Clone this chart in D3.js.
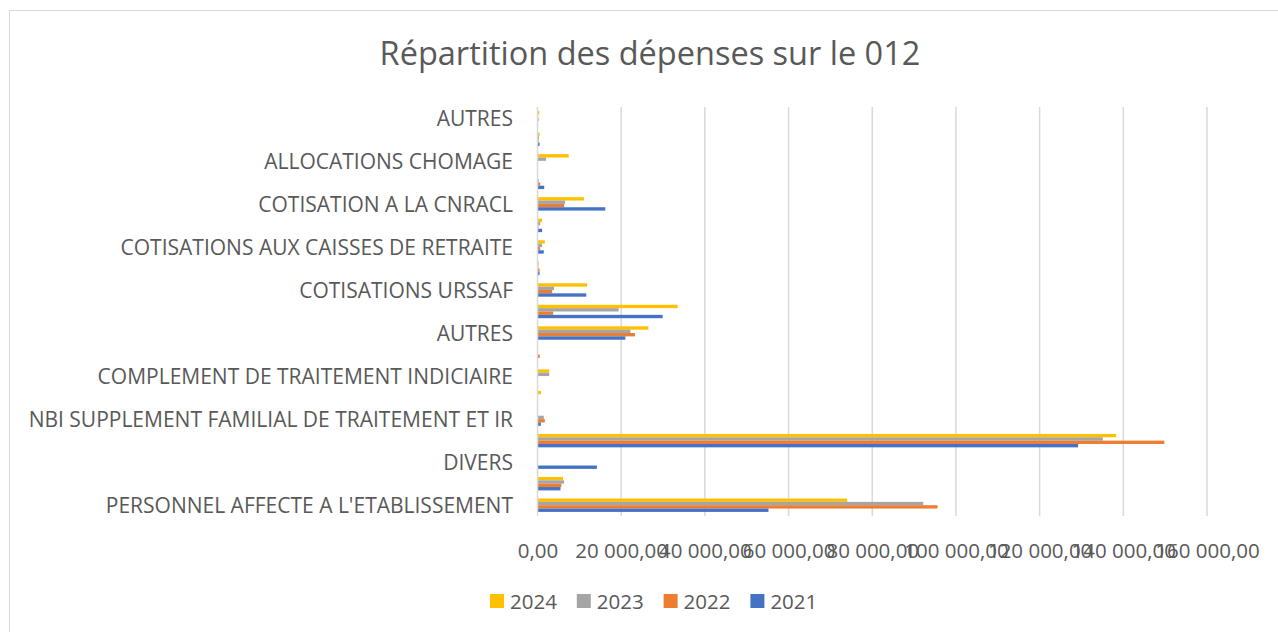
<!DOCTYPE html>
<html>
<head>
<meta charset="utf-8">
<script src="https://cdn.jsdelivr.net/npm/d3@7"></script>
<style>
  body { margin: 0; background: #fff; }
  text { font-family: "Open Sans", sans-serif; fill: #595959; }
</style>
</head>
<body>
<svg id="chart" width="1278" height="632"></svg>
<script>
// categories from top to bottom, Excel only prints every other label
var categories = [
    "AUTRES", "", "ALLOCATIONS CHOMAGE", "", "COTISATION A LA CNRACL", "",
    "COTISATIONS AUX CAISSES DE RETRAITE", "", "COTISATIONS URSSAF", "",
    "AUTRES", "", "COMPLEMENT DE TRAITEMENT INDICIAIRE", "",
    "NBI SUPPLEMENT FAMILIAL DE TRAITEMENT ET IR", "", "DIVERS", "",
    "PERSONNEL AFFECTE A L'ETABLISSEMENT"
]
var years = ["2024", "2023", "2022", "2021"]
var values2024 = [450, 500, 7450, 0, 11100, 1100, 1750, 300, 11850, 33500, 26500, 0, 2800, 850, 0, 138300, 0, 6100, 74000]
var values2023 = [150, 350, 2050, 300, 6600, 650, 1100, 200, 3950, 19400, 22200, 0, 2800, 0, 1500, 135100, 0, 6350, 92200]
var values2022 = [250, 250, 0, 650, 6350, 200, 650, 500, 3500, 3750, 23300, 550, 0, 0, 1750, 149800, 0, 5700, 95600]
var values2021 = [0, 500, 0, 1600, 16200, 1100, 1500, 500, 11650, 29900, 21000, 0, 0, 0, 800, 129200, 14200, 5500, 55200]
var xTicks = [0, 20000, 40000, 60000, 80000, 100000, 120000, 140000, 160000]

var colors = { "2024": "#FFC000", "2023": "#A5A5A5", "2022": "#ED7D31", "2021": "#4472C4" }
var series = { "2024": values2024, "2023": values2023, "2022": values2022, "2021": values2021 }

var svg = d3.select("#chart")

// chart border (cropped on the right and bottom)
svg.append("rect")
    .attr("x", 9.5).attr("y", 10.5)
    .attr("width", 1400).attr("height", 800)
    .attr("fill", "none").attr("stroke", "#d9d9d9")

svg.append("text")
    .attr("x", 650).attr("y", 65)
    .attr("text-anchor", "middle")
    .style("font-size", "32.5px")
    .text("Répartition des dépenses sur le 012")

var x = d3.scaleLinear().domain([0, 160000]).range([537.5, 1207])
var y = d3.scaleBand().domain(d3.range(categories.length)).range([107, 516]).paddingInner(0.377).paddingOuter(0.19)
var ySub = d3.scaleBand().domain(years).range([0, y.bandwidth()])

var fr = d3.formatLocale({ decimal: ",", thousands: " ", grouping: [3], currency: ["", "€"] })
var fmt = fr.format(",.2f")

// gridlines
svg.append("g")
    .selectAll("line")
    .data(xTicks.slice(1))
    .join("line")
    .attr("x1", d => x(d)).attr("x2", d => x(d))
    .attr("y1", 107).attr("y2", 516)
    .attr("stroke", "#d9d9d9").attr("stroke-width", 1.5)

// bars
var groups = svg.append("g")
    .selectAll("g")
    .data(categories.map((c, i) => i))
    .join("g")
    .attr("transform", i => "translate(0," + y(i) + ")")

groups.selectAll("rect")
    .data(i => years.map(yr => ({ year: yr, value: series[yr][i] })))
    .join("rect")
    .attr("x", x(0))
    .attr("y", d => ySub(d.year))
    .attr("width", d => x(d.value) - x(0))
    .attr("height", ySub.bandwidth())
    .attr("fill", d => colors[d.year])

// vertical axis
svg.append("line")
    .attr("x1", x(0)).attr("x2", x(0))
    .attr("y1", 107).attr("y2", 516)
    .attr("stroke", "#d9d9d9").attr("stroke-width", 1.5)

svg.append("g")
    .selectAll("text")
    .data(categories.map((c, i) => i).filter(i => categories[i] !== ""))
    .join("text")
    .attr("x", 513)
    .attr("y", i => y(i) + y.bandwidth() / 2)
    .attr("text-anchor", "end")
    .attr("dominant-baseline", "central")
    .style("font-size", "21px")
    .text(i => categories[i])

// x axis labels, they overlap like in the original
var xAxis = svg.append("g")
    .attr("transform", "translate(0,516)")
    .call(d3.axisBottom(x).tickValues(xTicks).tickFormat(fmt).tickSize(0).tickPadding(27))
xAxis.select(".domain").remove()
xAxis.selectAll("text")
    .attr("fill", "#595959")
    .style("font-family", "'Open Sans', sans-serif")
    .style("font-size", "20.5px")

// legend
var legend = svg.append("g")
    .selectAll("g")
    .data(years)
    .join("g")
    .attr("transform", (d, i) => "translate(" + (490 + i * 86.8) + ",594)")

legend.append("rect")
    .attr("width", 14).attr("height", 14)
    .attr("fill", d => colors[d])

legend.append("text")
    .attr("x", 20).attr("y", 7)
    .attr("dominant-baseline", "central")
    .style("font-size", "20.5px")
    .text(d => d)
</script>
</body>
</html>
